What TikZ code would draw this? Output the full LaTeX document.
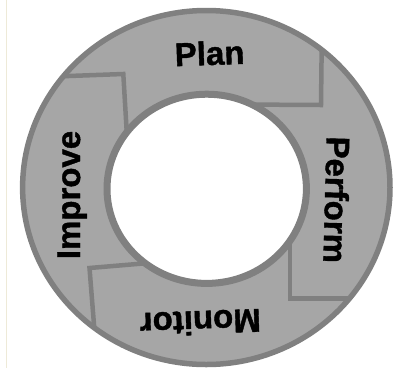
\documentclass[tikz,border=0pt]{standalone}
\usepackage{fontspec}
\setmainfont{Liberation Sans}
\newfontfamily\lblfont{Liberation Sans Bold}[FakeBold=1.2]
\definecolor{ringfill}{HTML}{A6A6A6}
\definecolor{ringgray}{HTML}{808080}
\definecolor{edgebeige}{HTML}{EEEAD8}
\begin{document}
\begin{tikzpicture}[x=1pt,y=-1pt,
  segline/.style={draw=ringgray, line width=4.5pt, line join=miter},
  lbl/.style={font=\fontsize{33}{36}\lblfont, inner sep=0pt, anchor=base, text=black}]
\useasboundingbox (0,0) rectangle (396,368);
\fill[white] (0,0) rectangle (396,368);
\draw[edgebeige, line width=1pt] (6.5,0) -- (6.5,368);
\coordinate (c) at (206.3,187.5);
\coordinate (ci) at (206.7,188.8);
\fill[ringfill] (c) ellipse [x radius=183.7pt, y radius=177pt];
\begin{scope}
  \clip (c) ellipse [x radius=183.7pt, y radius=177pt];
  \draw[segline] (322,20) -- (321,105) -- (240,104.5);
  \draw[segline] (290,230) -- (290,298.3) -- (400,298.3);
  \draw[segline] (150,262.9) -- (89.5,268) -- (96.8,360);
  \draw[segline] (20,77.8) -- (123.3,74) -- (127.8,150);
\end{scope}
\draw[ringgray, line width=5.5pt] (c) ellipse [x radius=183.7pt, y radius=177pt];
\filldraw[fill=white, draw=ringgray, line width=7pt] (ci) ellipse [x radius=99.7pt, y radius=94.6pt];
\node[lbl, rotate=2] (plan) at (210,65) {Plan};
\node[lbl, rotate=-91.5] (perform) at (325,199.5) {Perform};
\node[lbl, rotate=182] (monitor) at (200,311) {Monitor};
\node[lbl, rotate=90] (improve) at (80,195) {Improve};
\end{tikzpicture}
\end{document}
